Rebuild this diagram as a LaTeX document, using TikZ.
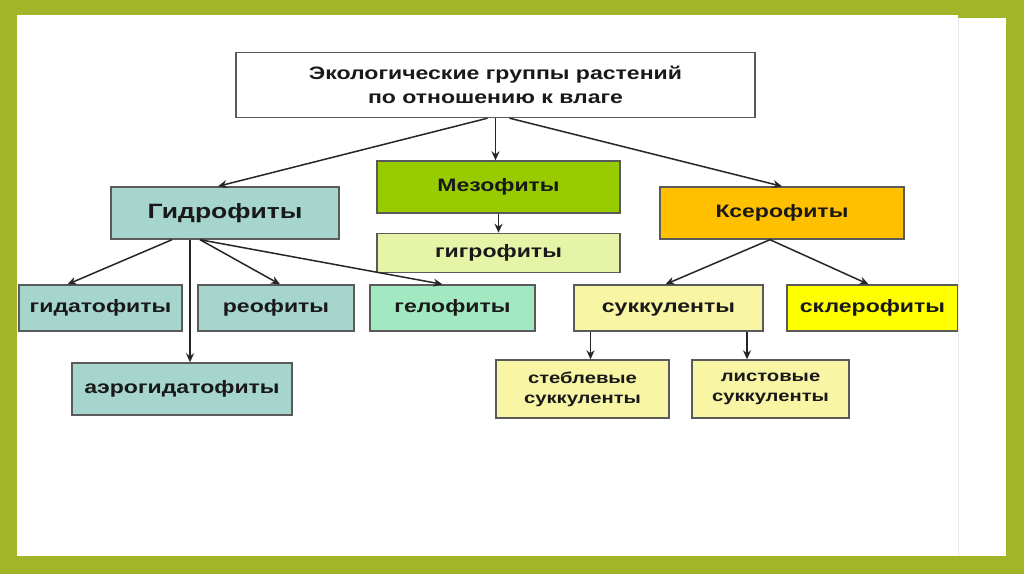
\documentclass[tikz,border=0pt]{standalone}
\usepackage{fontspec}
\setmainfont{Liberation Sans}[FakeStretch=1.28]
\usetikzlibrary{arrows.meta, positioning}

\definecolor{olive}{RGB}{162,181,41}
\definecolor{boxline}{RGB}{90,90,90}
\definecolor{hydrofill}{RGB}{165,213,205}
\definecolor{mesofill}{RGB}{153,204,0}
\definecolor{hygrofill}{RGB}{230,244,168}
\definecolor{xerofill}{RGB}{255,192,0}
\definecolor{helofill}{RGB}{162,232,192}
\definecolor{succfill}{RGB}{248,245,165}
\definecolor{sclerofill}{RGB}{255,255,0}

\tikzset{
  grp/.style={draw=boxline, line width=1.4pt, inner sep=0pt,
    text=black!90, font=\bfseries\fontsize{18}{22}\selectfont},
  word/.style={grp, text height=14pt, text depth=4.7pt},
  link/.style={-{Stealth[length=9pt,width=8pt]}, line width=1.5pt, black!85}
}

\begin{document}
\begin{tikzpicture}[x=1pt, y=-1pt]
  \useasboundingbox (0,0) rectangle (1024,574);
  % frame of the slide
  \fill[olive] (0,0) rectangle (1024,574);
  \fill[white] (17,15) rectangle (958,556);

  \node[grp, align=center, fill=white, minimum width=519pt, minimum height=65pt,
        font=\bfseries\fontsize{18}{24}\selectfont] (title) at (495.5,85)
    {Экологические группы растений\\по отношению к влаге};

  \node[word, fill=hydrofill, minimum width=228pt, minimum height=52pt,
        text height=17pt, text depth=6pt,
        font=\bfseries\fontsize{20.7}{25}\selectfont] (hydro) at (225,213) {Гидрофиты};
  \node[word, fill=mesofill, minimum width=243pt, minimum height=52pt] (meso)
    at (498.5,187) {Мезофиты};
  \node[word, fill=hygrofill, minimum width=243pt, minimum height=39pt,
        below=19pt of meso] (hygro) {гигрофиты};
  \node[word, fill=xerofill, minimum width=244pt, minimum height=52pt] (xero)
    at (782,213) {Ксерофиты};

  \node[word, fill=hydrofill, minimum width=163pt, minimum height=46pt] (hydato)
    at (100.5,308) {гидатофиты};
  \node[word, fill=hydrofill, minimum width=156pt, minimum height=46pt] (reo)
    at (276,308) {реофиты};
  \node[word, fill=helofill, minimum width=165pt, minimum height=46pt] (helo)
    at (452.5,308) {гелофиты};
  \node[word, fill=hydrofill, minimum width=220pt, minimum height=52pt] (aero)
    at (182,389) {аэрогидатофиты};

  \node[word, fill=succfill, minimum width=189pt, minimum height=46pt] (succ)
    at (668.5,308) {суккуленты};
  \node[word, fill=sclerofill, minimum width=171pt, minimum height=46pt] (sclero)
    at (872.5,308) {склерофиты};
  \node[grp, align=center, fill=succfill, minimum width=173pt, minimum height=58pt,
        font=\bfseries\fontsize{15.8}{20}\selectfont] (stem)
    at (582.5,389) {стеблевые\\суккуленты};
  \node[grp, align=center, fill=succfill, minimum width=157pt, minimum height=58pt,
        font=\bfseries\fontsize{15.8}{20}\selectfont] (leaf)
    at (770.5,389) {листовые\\суккуленты};

  % first level
  \draw[link] ([xshift=-8pt]title.south) -- ([xshift=-7pt]hydro.north);
  \draw[link] (title.south) -- (title.south |- meso.north);
  \draw[link] ([xshift=14pt]title.south) -- (xero.north);
  \draw[link] (meso) -- (hygro);

  % hydrophytes
  \draw[link] ([xshift=-53pt]hydro.south) -- ([xshift=-33pt]hydato.north);
  \draw[link] ([xshift=-35pt]hydro.south) -- ([xshift=-35pt]hydro.south |- aero.north);
  \draw[link] ([xshift=-25pt]hydro.south) -- ([xshift=4pt]reo.north);
  \draw[link] ([xshift=-25pt]hydro.south) -- ([xshift=-10pt]helo.north);

  % xerophytes
  \draw[link] ([xshift=-12pt]xero.south) -- ([xshift=-3pt]succ.north);
  \draw[link] ([xshift=-12pt]xero.south) -- ([xshift=-4pt]sclero.north);
  \draw[link] ([xshift=-78pt]succ.south) -- ([xshift=-78pt]succ.south |- stem.north);
  \draw[link] ([xshift=78.5pt]succ.south) -- ([xshift=78.5pt]succ.south |- leaf.north);

  % right strip of the slide
  \fill[white] (958.7,18) rectangle (1006,556);
  \draw[black!8, line width=0.6pt] (958.4,18) -- (958.4,556);
\end{tikzpicture}
\end{document}
